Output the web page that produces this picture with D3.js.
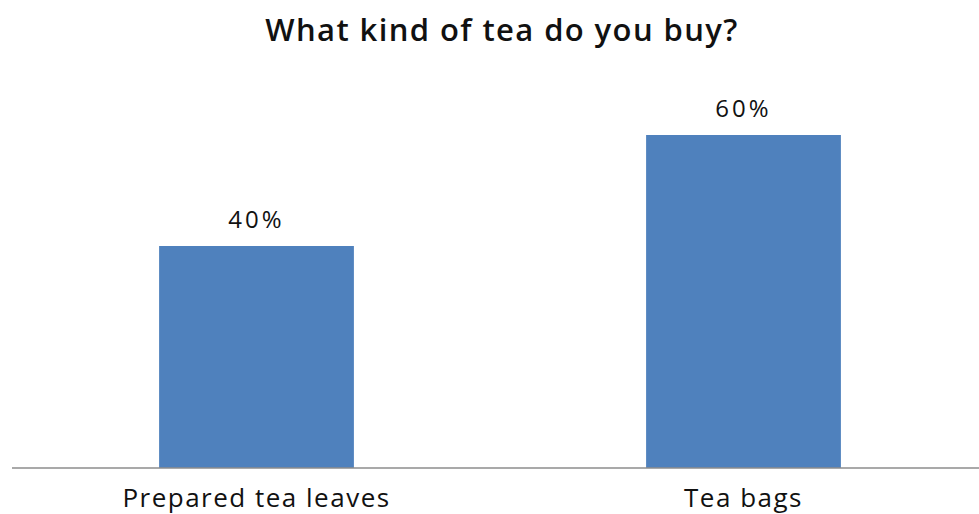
<!DOCTYPE html>
<html>
<head>
<meta charset="utf-8">
<script src="https://cdn.jsdelivr.net/npm/d3@7"></script>
<style>
  body { margin: 0; background: #fff; }
  text { font-family: "Open Sans", Lato, sans-serif; fill: #111; }
</style>
</head>
<body>
<div id="chart"></div>
<script>
const categories = ['Prepared tea leaves', 'Tea bags'];
const shares = [0.40, 0.60];
const title = 'What kind of tea do you buy?';

const width = 979;
const height = 514;
const baseY = 468;

const svg = d3.select('#chart')
  .append('svg')
  .attr('width', width)
  .attr('height', height);

// title
svg.append('text')
  .attr('x', 502)
  .attr('y', 41)
  .attr('text-anchor', 'middle')
  .style('font-size', '31px')
  .style('font-weight', 600)
  .style('letter-spacing', '1.4px')
  .text(title);

const x = d3.scaleBand()
  .range([13, 987])
  .domain(categories)
  .paddingInner(0.6)
  .paddingOuter(0.3);

const y = d3.scaleLinear()
  .domain([0, 0.6])
  .range([baseY, 135]);

const data = categories.map((c, i) => ({ id: c, value: shares[i] }));

svg.selectAll('rect.bar')
  .data(data)
  .enter()
  .append('rect')
  .attr('class', 'bar')
  .attr('fill', '#4F81BD')
  .attr('x', d => x(d.id))
  .attr('width', x.bandwidth())
  .attr('y', d => y(d.value))
  .attr('height', d => y(0) - y(d.value));

// value labels
svg.selectAll('text.val')
  .data(data)
  .enter()
  .append('text')
  .attr('class', 'val')
  .attr('x', d => x(d.id) + x.bandwidth() / 2)
  .attr('y', d => y(d.value) - 18)
  .attr('text-anchor', 'middle')
  .style('font-size', '24px')
  .style('letter-spacing', '3px')
  .text(d => d3.format('.0%')(d.value));

// x axis baseline
const xG = svg.append('g')
  .attr('transform', `translate(0, ${baseY})`)
  .call(d3.axisBottom(x).tickSize(0).tickPadding(21));

xG.select('.domain')
  .attr('stroke', '#8c8c8c')
  .attr('stroke-width', 1.5)
  .attr('d', 'M12,0H979');

xG.selectAll('text')
  .style('font-size', '26px')
  .style('letter-spacing', '1.5px')
  .style('font-family', '"Open Sans", Lato, sans-serif')
  .attr('fill', '#111');
</script>
</body>
</html>
